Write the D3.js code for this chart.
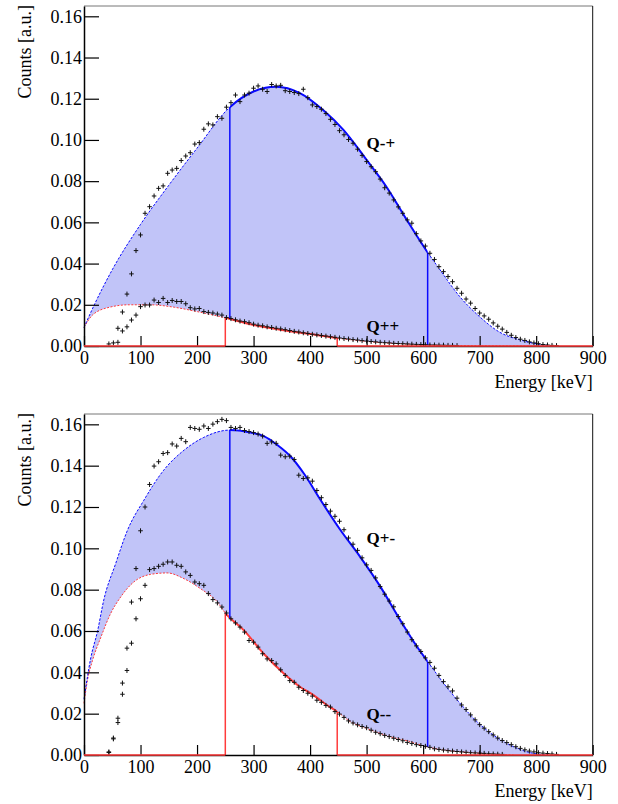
<!DOCTYPE html>
<html>
<head>
<meta charset="utf-8">
<script src="https://cdn.jsdelivr.net/npm/d3@7"></script>
<style>
  body { margin: 0; background: #fff; }
  svg { display: block; }
</style>
</head>
<body>
<div id="chart"></div>
<script>
// ---- data (energies in keV, counts in a.u.) ----
var binWidth = 8;          // histogram bin width, keV
var countErr = 0.0012;     // vertical error bar half-length

// upper panel : Q-+ (upper spectrum) and Q++ (lower spectrum)
var qmpStart = 44;
var qmpCounts = [0.001,0.0015,0.0018,0.0165,0.0252,0.035,0.0463,0.0539,0.0644,0.0676,
  0.0728,0.0765,0.0777,0.0838,0.0854,0.0862,0.090,0.0922,0.0938,0.098,
  0.0987,0.1052,0.1078,0.1073,0.1113,0.1105,0.1159,0.1181,0.1218,0.1186,
  0.1218,0.1227,0.1251,0.1262,0.1246,0.1235,0.1269,0.1262,0.1265,0.1239,
  0.1235,0.123,0.1225,0.1246,0.1205,0.117,0.1162,0.1149,0.1128,0.110,
  0.1075,0.1045,0.1025,0.1002,0.0984,0.0955,0.0925,0.0895,0.087,0.0846,
  0.081,0.0768,0.0742,0.0709,0.0675,0.0644,0.0612,0.0596,0.0545,0.051,
  0.0485,0.045,0.042,0.0385,0.0361,0.0337,0.0312,0.028,0.0256,0.0228,
  0.0208,0.0182,0.016,0.0146,0.013,0.0112,0.0096,0.0082,0.0066,0.0052,
  0.0041,0.0033,0.0027,0.002,0.0015,0.0011,0.0007,0.0005,0.0003,0.0002];
var qppStart = 60;
var qppCounts = [0.0086,0.0073,0.0093,0.0126,0.015,0.0191,0.0199,0.0199,0.0223,0.0211,
  0.0231,0.0211,0.0221,0.0216,0.0216,0.0205,0.0186,0.018,0.0182,0.0167,
  0.0163,0.016,0.0155,0.015,0.0138,0.0133,0.0127,0.0121,0.0118,0.0113,
  0.0106,0.0101,0.0098,0.0093,0.009,0.0086,0.0083,0.0079,0.0075,0.0071,
  0.0068,0.0064,0.0061,0.0057,0.0054,0.0051,0.0048,0.0045,0.0042,0.0039,
  0.0036,0.0034,0.0031,0.0029,0.0026,0.0024,0.0022,0.002,0.0018,0.0016,
  0.0015,0.0013,0.0012,0.0011,0.001,0.0009,0.0008,0.0007,0.0006,0.0005,
  0.0005,0.0004,0.0004,0.0003,0.0003,0.0002];
var topBlueE = [0,20,50,100,150,200,258,300,340,382,423,459,500,535,571,605,630,665,700,736,771,807,830];
var topBlueV = [0.009,0.021,0.037,0.059,0.078,0.096,0.1159,0.1235,0.1258,0.1227,0.1145,0.1049,0.0903,0.0773,0.0612,0.0466,0.0369,0.0239,0.0142,0.0066,0.003,0.0008,0];
var topRedE = [0,15,45,80,118,160,200,250,300,350,400,450,500,560,610,700,800];
var topRedV = [0.009,0.015,0.0188,0.020,0.020,0.0188,0.0167,0.0137,0.0102,0.0078,0.0058,0.0038,0.0022,0.0011,0.0005,0.0001,0];

// lower panel : Q+- (upper spectrum) and Q-- (lower spectrum)
var qpmStart = 44;
var qpmCounts = [0.0015,0.0082,0.0178,0.0348,0.0517,0.074,0.0902,0.1085,0.120,0.1309,
  0.1398,0.1419,0.1459,0.1463,0.1505,0.1495,0.1532,0.1516,0.1585,0.158,
  0.1576,0.1592,0.158,0.1601,0.1613,0.1624,0.1618,0.1585,0.158,0.1585,
  0.157,0.1565,0.156,0.1553,0.1543,0.1508,0.1515,0.1508,0.1451,0.1443,
  0.1446,0.143,0.1354,0.1338,0.1341,0.1325,0.128,0.1245,0.1212,0.118,
  0.1155,0.1131,0.109,0.105,0.102,0.099,0.0954,0.092,0.0893,0.0857,
  0.0815,0.0778,0.0745,0.0717,0.067,0.0635,0.0595,0.0558,0.0528,0.0501,
  0.047,0.0448,0.042,0.0385,0.0355,0.033,0.031,0.0275,0.0242,0.022,
  0.0194,0.017,0.0147,0.013,0.0113,0.0097,0.0082,0.007,0.006,0.005,
  0.004,0.0032,0.0025,0.0019,0.0015,0.0011,0.0009,0.0007,0.0005,0.0003];
var qmmStart = 44;
var qmmCounts = [0.0012,0.0078,0.0157,0.0294,0.0409,0.0541,0.0659,0.0756,0.0821,0.0897,
  0.0902,0.0913,0.0923,0.0934,0.0934,0.0918,0.0913,0.0886,0.0869,0.0837,
  0.0829,0.0821,0.0781,0.0752,0.0736,0.0716,0.0687,0.0659,0.0639,0.0619,
  0.0595,0.0554,0.0546,0.0522,0.049,0.0465,0.0457,0.0441,0.0412,0.0385,
  0.036,0.0352,0.0328,0.0312,0.0299,0.0285,0.0265,0.0255,0.024,0.0232,
  0.021,0.0198,0.0182,0.0165,0.0155,0.0146,0.0138,0.0132,0.012,0.011,
  0.0103,0.0095,0.0089,0.0081,0.0075,0.0069,0.0061,0.0056,0.005,0.0046,
  0.0042,0.0037,0.003,0.0027,0.0024,0.0021,0.0019,0.0017,0.0015,0.0013,
  0.0011,0.001,0.0009,0.0008,0.0006,0.0005,0.0004,0.0003];
var botBlueE = [0,12,24,35,56,77,106,141,177,212,258,295,318,342,366,389,418,453,488,524,559,589,608,636,665,695,724,754,783,820];
var botBlueV = [0.027,0.047,0.060,0.075,0.0926,0.1088,0.1233,0.1378,0.1475,0.1537,0.1572,0.156,0.1543,0.150,0.1443,0.1362,0.1236,0.1091,0.0961,0.0816,0.0655,0.0525,0.0452,0.0348,0.0251,0.0162,0.0097,0.0048,0.0016,0];
var botRedE = [0,6,15,30,47,65,88,118,147,177,206,236,250,283,318,354,382,406,429,448,471,500,541,577,606,646,688,720,760];
var botRedV = [0.025,0.036,0.0457,0.0571,0.0684,0.0765,0.0837,0.0874,0.0881,0.0853,0.0805,0.074,0.0687,0.0603,0.049,0.0393,0.033,0.029,0.0243,0.021,0.0162,0.0129,0.0089,0.0065,0.004,0.0021,0.0011,0.0005,0];

// integration windows (keV)
var blueWindow = [258, 608];
var redWindow = [250, 448];

var xTicks = d3.range(0, 901, 100);
var yTicks = d3.range(0, 0.1601, 0.02);

// ---- drawing ----
var FONT = '"Liberation Serif", "Times New Roman", Times, serif';
var FILL = '#c1c4f8', BLUE = '#0a0aff', RED = '#ff3b3b';
var svg = d3.select('#chart').append('svg').attr('width', 618).attr('height', 804);
var x = d3.scaleLinear().domain([0, 900]).range([84, 592.7]);

function pairs(es, vs) { return es.map(function(e, i) { return [e, vs[i]]; }); }
function bins(start, vs) { return vs.map(function(v, i) { return [start + i * binWidth, v]; }); }

// y on a drawn path at pixel x (path runs left to right)
function yAt(node, px) {
  var lo = 0, hi = node.getTotalLength();
  for (var k = 0; k < 40; k++) {
    var mid = (lo + hi) / 2;
    if (node.getPointAtLength(mid).x < px) lo = mid; else hi = mid;
  }
  return node.getPointAtLength((lo + hi) / 2).y;
}

function label(sel, size) {
  return sel.style('font-family', FONT).style('font-size', size + 'px').style('fill', '#000');
}

function panel(cfg, idx) {
  var y = d3.scaleLinear().domain([0, 0.165]).range([cfg.bottom, cfg.top]);
  var g = svg.append('g');
  var blue = pairs(cfg.blueE, cfg.blueV), red = pairs(cfg.redE, cfg.redV);

  var area = d3.area().x(function(d) { return x(d[0]); }).y0(y(0))
    .y1(function(d) { return y(d[1]); }).curve(d3.curveMonotoneX);
  var line = d3.line().x(function(d) { return x(d[0]); })
    .y(function(d) { return y(d[1]); }).curve(d3.curveMonotoneX);

  g.append('path').attr('d', area(blue)).attr('fill', FILL);
  g.append('path').attr('d', area(red)).attr('fill', '#fff');

  // clip windows for the solid parts
  var defs = svg.append('defs');
  defs.append('clipPath').attr('id', 'cb' + idx).append('rect')
    .attr('x', x(blueWindow[0])).attr('width', x(blueWindow[1]) - x(blueWindow[0]))
    .attr('y', cfg.top - 5).attr('height', cfg.bottom - cfg.top + 10);
  defs.append('clipPath').attr('id', 'cr' + idx).append('rect')
    .attr('x', x(redWindow[0])).attr('width', x(redWindow[1]) - x(redWindow[0]))
    .attr('y', cfg.top - 5).attr('height', cfg.bottom - cfg.top + 10);

  var rl = g.append('path').attr('d', line(red)).attr('fill', 'none')
    .attr('stroke', RED).attr('stroke-width', 1).attr('stroke-dasharray', '2,1.5');
  var bl = g.append('path').attr('d', line(blue)).attr('fill', 'none')
    .attr('stroke', BLUE).attr('stroke-width', 1).attr('stroke-dasharray', '2.5,1.5');

  g.append('path').attr('d', line(red)).attr('fill', 'none').attr('stroke', RED)
    .attr('stroke-width', 2).attr('clip-path', 'url(#cr' + idx + ')');
  g.append('path').attr('d', line(blue)).attr('fill', 'none').attr('stroke', BLUE)
    .attr('stroke-width', 2).attr('clip-path', 'url(#cb' + idx + ')');

  // window edges
  redWindow.forEach(function(e) {
    g.append('line').attr('x1', x(e)).attr('x2', x(e)).attr('y1', y(0))
      .attr('y2', yAt(rl.node(), x(e))).attr('stroke', RED).attr('stroke-width', 1.5);
  });
  blueWindow.forEach(function(e) {
    g.append('line').attr('x1', x(e)).attr('x2', x(e)).attr('y1', yAt(rl.node(), x(e)))
      .attr('y2', yAt(bl.node(), x(e))).attr('stroke', BLUE).attr('stroke-width', 1.5);
  });

  // data points with error crosses
  var d = '';
  cfg.series.forEach(function(s) {
    bins(s[0], s[1]).forEach(function(p) {
      var cx = x(p[0]), cy = y(p[1]);
      d += 'M' + x(p[0] - binWidth / 2) + ',' + cy + 'H' + x(p[0] + binWidth / 2) +
        'M' + cx + ',' + y(Math.max(0, p[1] - countErr)) + 'V' + y(p[1] + countErr);
    });
  });
  g.append('path').attr('d', d).attr('fill', 'none').attr('stroke', '#111').attr('stroke-width', 1);

  // frame
  g.append('line').attr('x1', x(0)).attr('x2', x(900)).attr('y1', cfg.top).attr('y2', cfg.top)
    .attr('stroke', '#777').attr('stroke-width', 1);
  g.append('line').attr('x1', x(900)).attr('x2', x(900)).attr('y1', cfg.top).attr('y2', cfg.bottom)
    .attr('stroke', '#111').attr('stroke-width', 1);

  // axes, ticks pointing inward
  var ax = g.append('g').attr('transform', 'translate(0,' + cfg.bottom + ')');
  ax.call(d3.axisBottom(x).tickValues(d3.range(0, 901, 20)).tickSize(-5).tickFormat('').tickSizeOuter(0));
  ax.call(d3.axisBottom(x).tickValues(xTicks).tickSize(-10).tickPadding(5).tickSizeOuter(0).tickFormat(d3.format('d')));
  var ay = g.append('g').attr('transform', 'translate(' + x(0) + ',0)');
  ay.call(d3.axisLeft(y).tickValues(d3.range(0, 0.1651, 0.005)).tickSize(-7.5).tickFormat('').tickSizeOuter(0));
  ay.call(d3.axisLeft(y).tickValues(yTicks).tickSize(-15).tickPadding(2).tickSizeOuter(0).tickFormat(d3.format('.2f')));
  g.selectAll('.domain').attr('stroke', '#000').attr('stroke-width', 1.5);
  g.selectAll('.tick line').attr('stroke', '#000').attr('stroke-width', 1.2);
  label(g.selectAll('.tick text'), 18);

  // red outline on the base line outside the window
  g.append('path').attr('d', 'M' + x(0) + ',' + y(0) + 'H' + x(redWindow[0]) +
    'M' + x(redWindow[1]) + ',' + y(0) + 'H' + x(900))
    .attr('stroke', RED).attr('stroke-width', 1.5).attr('fill', 'none');

  // titles and labels
  label(g.append('text').attr('x', x(900)).attr('y', cfg.xTitleY).attr('text-anchor', 'end'), 18)
    .text('Energy [keV]');
  label(g.append('text').attr('transform', 'translate(31,' + (cfg.top - 1) + ') rotate(-90)')
    .attr('text-anchor', 'end'), 18).text('Counts [a.u.]');
  cfg.labels.forEach(function(l) {
    label(g.append('text').attr('x', x(l[0])).attr('y', y(l[1])), 17)
      .style('font-weight', 'bold').text(l[2]);
  });
}

panel({
  top: 6, bottom: 346, xTitleY: 388,
  blueE: topBlueE, blueV: topBlueV, redE: topRedE, redV: topRedV,
  series: [[qmpStart, qmpCounts], [qppStart, qppCounts]],
  labels: [[500, 0.0955, 'Q-+'], [500, 0.0068, 'Q++']]
}, 0);

panel({
  top: 414, bottom: 755, xTitleY: 797,
  blueE: botBlueE, blueV: botBlueV, redE: botRedE, redV: botRedV,
  series: [[qpmStart, qpmCounts], [qmmStart, qmmCounts]],
  labels: [[500, 0.102, 'Q+-'], [500, 0.017, 'Q--']]
}, 1);
</script>
</body>
</html>
